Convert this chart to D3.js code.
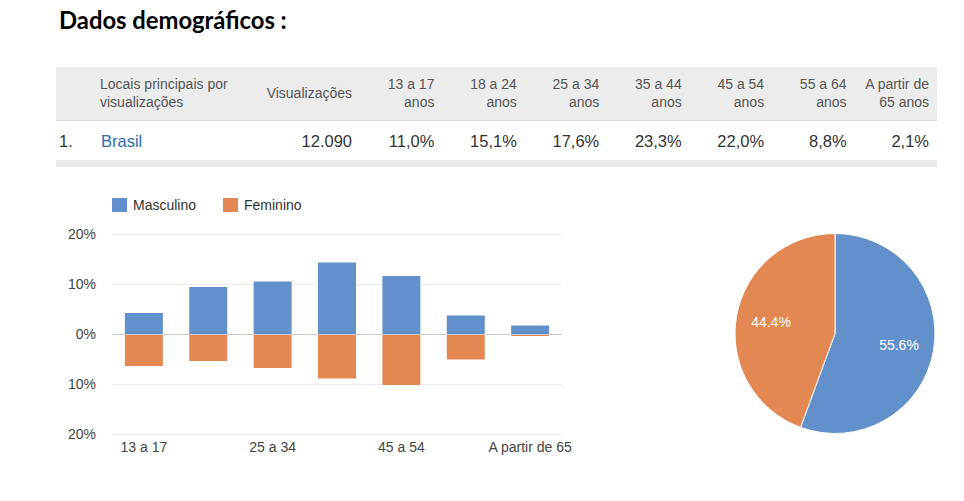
<!DOCTYPE html>
<html><head><meta charset="utf-8">
<script src="https://cdn.jsdelivr.net/npm/d3@7"></script>
<style>body{margin:0;background:#fff}svg{display:block}</style>
</head><body>
<script>
// ---- data ----
const title = "Dados demográficos :";
const categories = ["13 a 17","18 a 24","25 a 34","35 a 44","45 a 54","55 a 64","A partir de 65"];
const headerLines = [["13 a 17","anos"],["18 a 24","anos"],["25 a 34","anos"],["35 a 44","anos"],["45 a 54","anos"],["55 a 64","anos"],["A partir de","65 anos"]];
const tableValues = ["11,0%","15,1%","17,6%","23,3%","22,0%","8,8%","2,1%"];
const country = "Brasil";
const views = "12.090";
const masculino = [4.2, 9.4, 10.5, 14.3, 11.6, 3.7, 1.7];
const feminino = [6.4, 5.4, 6.8, 8.9, 10.2, 5.1, 0.4];
const yTicks = [-20, -10, 0, 10, 20];
const xTickLabels = ["13 a 17","25 a 34","45 a 54","A partir de 65"];
const seriesNames = ["Masculino","Feminino"];
const pieValues = [55.6, 44.4];
const colors = ["#6190ca","#e38852"];

const W = 964, H = 501;
const svg = d3.select("body").append("svg").attr("width", W).attr("height", H);
const FONT = "Arial, 'Liberation Sans', sans-serif";

// ---- title ----
svg.append("text").attr("x", 59).attr("y", 29)
  .attr("font-family", "Lato, 'Open Sans', sans-serif").attr("font-weight", 700)
  .attr("font-size", 23.8).attr("fill", "#000").text(title);

// ---- table ----
svg.append("rect").attr("x", 56).attr("y", 67).attr("width", 881).attr("height", 53).attr("fill", "#ececec");
svg.append("line").attr("x1", 56).attr("x2", 937).attr("y1", 120.5).attr("y2", 120.5).attr("stroke", "#dcdcdc");
svg.append("rect").attr("x", 56).attr("y", 160).attr("width", 881).attr("height", 7).attr("fill", "#ececec");

const colX = d3.scalePoint().domain(["views", ...categories]).range([352, 929]);
const hdr = svg.append("g").attr("font-family", FONT).attr("font-size", 14).attr("fill", "#555");
hdr.append("text").attr("x", 100).attr("y", 89).text("Locais principais por");
hdr.append("text").attr("x", 100).attr("y", 107).text("visualizações");
hdr.append("text").attr("x", colX("views")).attr("y", 98).attr("text-anchor", "end").text("Visualizações");
categories.forEach((c, i) => {
  headerLines[i].forEach((ln, j) => {
    hdr.append("text").attr("x", colX(c)).attr("y", 89 + j * 18).attr("text-anchor", "end").text(ln);
  });
});
const row = svg.append("g").attr("font-family", FONT).attr("font-size", 16.5).attr("fill", "#333");
row.append("text").attr("x", 59).attr("y", 147).text("1.");
row.append("text").attr("x", 101).attr("y", 147).attr("fill", "#2b6bb5").text(country);
row.append("text").attr("x", colX("views")).attr("y", 147).attr("text-anchor", "end").text(views);
categories.forEach((c, i) => {
  row.append("text").attr("x", colX(c)).attr("y", 147).attr("text-anchor", "end").text(tableValues[i]);
});

// ---- bar chart ----
const x = d3.scaleBand().domain(categories).range([112, 562]).paddingInner(0.41).paddingOuter(0.2);
const y = d3.scaleLinear().domain([-20, 20]).range([434, 234]);

const grid = svg.append("g");
grid.selectAll("line").data(yTicks.filter(t => t !== 0)).join("line")
  .attr("x1", 112).attr("x2", 562).attr("y1", d => y(d) + 0.5).attr("y2", d => y(d) + 0.5)
  .attr("stroke", "#ebebeb");

svg.append("g").selectAll("rect").data(masculino).join("rect")
  .attr("x", (d, i) => x(categories[i])).attr("width", x.bandwidth())
  .attr("y", d => y(d)).attr("height", d => y(0) - y(d)).attr("fill", colors[0]);
svg.append("g").selectAll("rect").data(feminino).join("rect")
  .attr("x", (d, i) => x(categories[i])).attr("width", x.bandwidth())
  .attr("y", y(0)).attr("height", d => y(-d) - y(0)).attr("fill", colors[1]);

svg.append("line").attr("x1", 112).attr("x2", 562).attr("y1", y(0) + 0.5).attr("y2", y(0) + 0.5).attr("stroke", "#cccccc");

const yl = svg.append("g").attr("font-family", FONT).attr("font-size", 14).attr("fill", "#444");
yl.selectAll("text").data(yTicks).join("text")
  .attr("x", 96).attr("y", d => y(d) + 5).attr("text-anchor", "end")
  .text(d => Math.abs(d) + "%");

const xl = svg.append("g").attr("font-family", FONT).attr("font-size", 14).attr("fill", "#444");
xl.selectAll("text").data(xTickLabels).join("text")
  .attr("x", d => x(d) + x.bandwidth() / 2).attr("y", 452).attr("text-anchor", "middle").text(d => d);

// legend
const leg = svg.append("g").attr("font-family", FONT).attr("font-size", 14).attr("fill", "#333");
const legX = [112, 223];
seriesNames.forEach((s, i) => {
  leg.append("rect").attr("x", legX[i]).attr("y", 198).attr("width", 15).attr("height", 14).attr("fill", colors[i]);
  leg.append("text").attr("x", legX[i] + 21).attr("y", 210).text(s);
});

// ---- pie ----
const pie = d3.pie().sort(null)(pieValues);
const arc = d3.arc().innerRadius(0).outerRadius(100);
const labelArc = d3.arc().innerRadius(65).outerRadius(65);
const pg = svg.append("g").attr("transform", "translate(835,333.5)");
pg.selectAll("path").data(pie).join("path")
  .attr("d", arc).attr("fill", (d, i) => colors[i]).attr("stroke", "#fff").attr("stroke-width", 1);
pg.selectAll("text").data(pie).join("text")
  .attr("transform", d => `translate(${labelArc.centroid(d)})`)
  .attr("dy", "0.35em").attr("text-anchor", "middle")
  .attr("font-family", FONT).attr("font-size", 14).attr("fill", "#fff")
  .text(d => d.data.toFixed(1) + "%");
</script>
</body></html>
